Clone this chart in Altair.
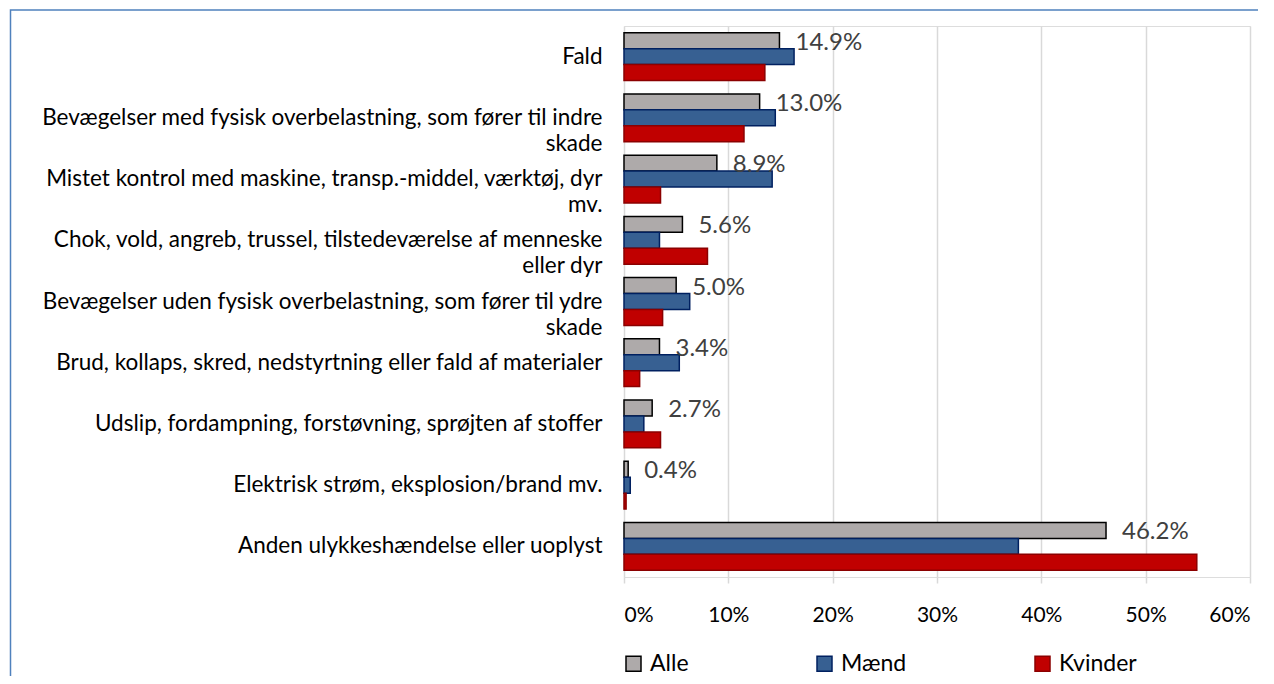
import altair as alt
import pandas as pd

categories = [
    "Fald",
    "Bevægelser med fysisk overbelastning, som fører til indre|skade",
    "Mistet kontrol med maskine, transp.-middel, værktøj, dyr|mv.",
    "Chok, vold, angreb, trussel, tilstedeværelse af menneske|eller dyr",
    "Bevægelser uden fysisk overbelastning, som fører til ydre|skade",
    "Brud, kollaps, skred, nedstyrtning eller fald af materialer",
    "Udslip, fordampning, forstøvning, sprøjten af stoffer",
    "Elektrisk strøm, eksplosion/brand mv.",
    "Anden ulykkeshændelse eller uoplyst",
]
series = ["Alle", "Mænd", "Kvinder"]
alle = [14.9, 13.0, 8.9, 5.6, 5.0, 3.4, 2.7, 0.4, 46.2]
maend = [16.3, 14.5, 14.2, 3.4, 6.3, 5.3, 1.9, 0.6, 37.8]
kvinder = [13.5, 11.5, 3.5, 8.0, 3.7, 1.5, 3.5, 0.2, 54.9]
x_ticks = [0, 10, 20, 30, 40, 50, 60]

fill_colors = ["#AEAAAA", "#376092", "#C00000"]
stroke_colors = ["#000000", "#002060", "#8B0000"]

rows = []
for i, c in enumerate(categories):
    for s, vals in zip(series, [alle, maend, kvinder]):
        rows.append({"category": c, "series": s, "value": vals[i]})
df = pd.DataFrame(rows)

FONT = "Lato"

y_enc = alt.Y(
    "category:N",
    sort=categories,
    scale=alt.Scale(paddingInner=0.22, paddingOuter=0.11),
    axis=alt.Axis(
        title=None,
        labelExpr="split(datum.label, '|')",
        labelFontSize=22.5,
        labelFont=FONT,
        labelColor="#000000",
        labelLineHeight=26,
        labelPadding=22,
        labelLimit=700,
        ticks=False,
        domain=False,
        grid=False,
    ),
)
yoff_enc = alt.YOffset(
    "series:N", sort=series, scale=alt.Scale(domain=series, paddingInner=0, paddingOuter=0)
)
x_enc = alt.X(
    "value:Q",
    scale=alt.Scale(domain=[0, 60], nice=False),
    axis=alt.Axis(
        title=None,
        values=x_ticks,
        labelExpr="datum.value + '%'",
        labelFontSize=21,
        labelFont=FONT,
        labelColor="#000000",
        labelPadding=21,
        ticks=True,
        tickSize=6,
        tickColor="#D9D9D9",
        tickWidth=1.5,
        domain=False,
        grid=True,
        gridColor="#D9D9D9",
        gridWidth=1.5,
    ),
)

bars = alt.Chart(df).mark_bar(strokeWidth=1.5).encode(
    y=y_enc,
    yOffset=yoff_enc,
    x=x_enc,
    fill=alt.Fill(
        "series:N",
        sort=series,
        scale=alt.Scale(domain=series, range=fill_colors),
        legend=alt.Legend(
            title=None,
            orient="none",
            legendX=-2,
            legendY=626,
            direction="horizontal",
            columns=3,
            columnPadding=124,
            symbolType="square",
            symbolSize=225,
            symbolStrokeWidth=1.5,
            labelFontSize=23,
            labelFont=FONT,
            labelColor="#000000",
            labelOffset=5,
        ),
    ),
    stroke=alt.Stroke(
        "series:N",
        sort=series,
        scale=alt.Scale(domain=series, range=stroke_colors),
        legend=None,
    ),
)

labels = (
    alt.Chart(df)
    .transform_filter(alt.datum.series == "Alle")
    .transform_calculate(label="format(datum.value, '.1f') + '%'")
    .mark_text(align="left", baseline="middle", dx=16, dy=2, fontSize=24, font=FONT, color="#404040")
    .encode(y=y_enc, yOffset=yoff_enc, x=x_enc, text="label:N")
)

frame = (
    alt.Chart(pd.DataFrame({"a": [0]}))
    .mark_rect(fill=None, stroke="#4F81BD", strokeWidth=1.5)
    .encode(
        x=alt.value(-613.5),
        y=alt.value(-16),
        x2=alt.value(700),
        y2=alt.value(700),
    )
)

chart = (
    alt.layer(frame, bars, labels)
    .properties(
        width=626,
        height=551,
        autosize=alt.AutoSizeParams(type="none"),
        padding={"left": 616, "top": 18, "right": 8, "bottom": 99},
    )
    .configure_view(stroke=None)
    .configure(font=FONT)
)

chart.save("out.html", embed_options={"renderer": "svg", "actions": False})
